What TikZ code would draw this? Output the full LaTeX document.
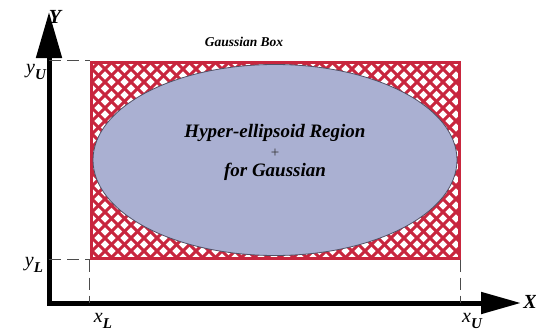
\documentclass[tikz,border=0pt]{standalone}
\usepackage{fontspec}
\setmainfont{Liberation Serif}
\usetikzlibrary{arrows.meta,shapes.geometric}
\definecolor{boxred}{RGB}{200,38,62}
\definecolor{regionblue}{RGB}{170,176,210}
\newcommand{\axlab}[2]{#1\raisebox{-6pt}{\bfseries\fontsize{15}{15}\selectfont #2}}

\begin{document}
\begin{tikzpicture}[x=1pt, y=1pt,
  axis/.style={line width=5pt, line cap=rect},
  guide/.style={gray!60!black, line width=1.2pt, dash pattern=on 12pt off 6pt},
  hatch/.style={boxred, line width=3pt},
  lab/.style={font=\itshape\fontsize{20}{22}\selectfont, inner sep=0pt},
  txt/.style={font=\bfseries\itshape\fontsize{19}{21}\selectfont, inner sep=0pt, anchor=base}]
\useasboundingbox (0,0) rectangle (536,333);

% cross-hatched box
\begin{scope}
\clip (91,75) rectangle (459,271);
\foreach \i in {-110,-97,...,470} {
  \draw[hatch] (\i,75) -- ++(196,196);
  \draw[hatch] (\i,271) -- ++(196,-196);
}
\end{scope}
\node[draw=boxred, line width=3pt, minimum width=368pt, minimum height=196pt, inner sep=0pt] (box) at (275,173) {};
\node[ellipse, draw={rgb,255:red,80;green,80;blue,100}, line width=0.8pt, fill=regionblue,
  minimum width=364pt, minimum height=191pt, inner sep=0pt] (region) at (275,173) {};

\node[txt] (name) at (275,196) {Hyper-ellipsoid Region};
\node[font=\fontsize{15}{15}\selectfont, text=gray!40!black, inner sep=0pt, anchor=base,
  text height=9pt, text depth=0pt] (plus) at (275,176) {+};
\node[txt] (gauss) at (275,157) {for Gaussian};
\node[txt, font=\bfseries\itshape\fontsize{13.5}{15}\selectfont] (title) at (244,287) {Gaussian Box};

% axes
\coordinate (O) at (49,30);
\coordinate (ytip) at (49,321);
\coordinate (xtip) at (521,30);
\draw[axis, -{Triangle[length=46pt,width=25pt]}] (O) -- (ytip);
\draw[axis, -{Triangle[length=40pt,width=21pt]}] (O) -- (xtip);

\coordinate (yU) at (O |- box.north west);
\coordinate (yL) at (O |- box.south west);
\coordinate (xL) at (box.south west |- O);
\coordinate (xU) at (box.south east |- O);
\draw[guide] (yU) -- (box.north west);
\draw[guide] (yL) -- (box.south west);
\draw[guide] (box.south west) -- (xL);
\draw[guide] (box.south east) -- (xU);

\node[lab] (Ylab) at (55,316) {\bfseries Y};
\node[lab] (Xlab) at (530,31) {\bfseries X};
\node[lab] (yUlab) at (36,261) {\axlab{y}{U}};
\node[lab] (yLlab) at (34,68) {\axlab{y}{L}};
\node[lab] (xLlab) at (103,12) {\axlab{x}{L}};
\node[lab] (xUlab) at (472,12) {\axlab{x}{U}};
\end{tikzpicture}
\end{document}
